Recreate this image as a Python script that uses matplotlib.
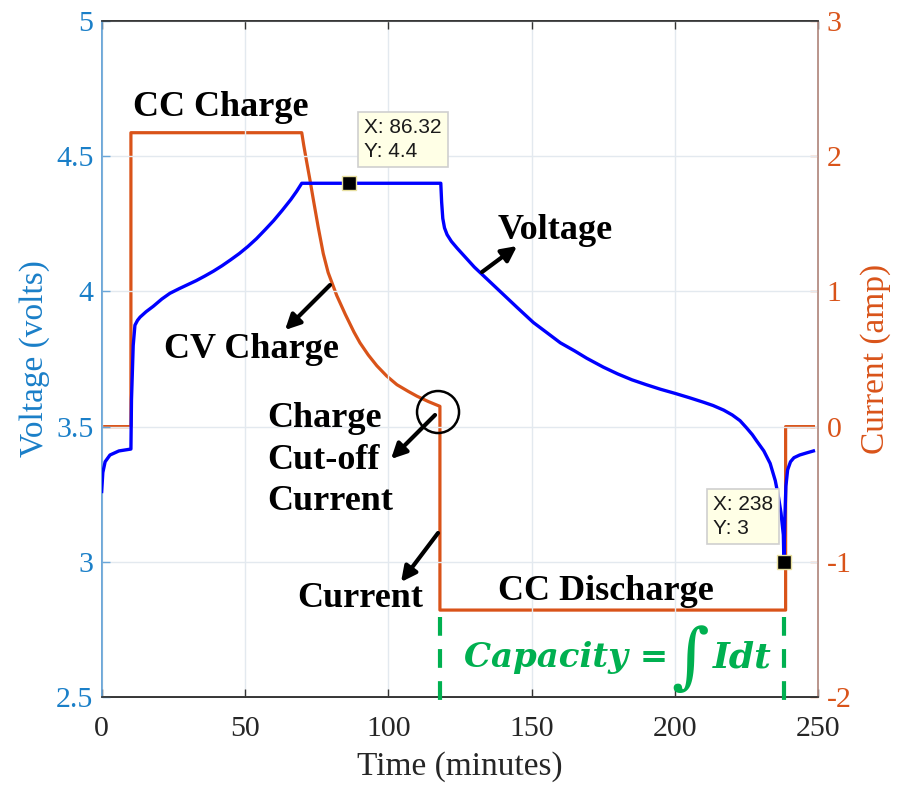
import matplotlib
matplotlib.use("Agg")
import matplotlib.pyplot as plt
from matplotlib.patches import Ellipse

plt.rcParams['axes.unicode_minus'] = False
plt.rcParams['font.family'] = ['Liberation Serif', 'DejaVu Serif']

# ---------------- data ----------------
time_v = [0, 0.4, 1.2, 2.9, 6, 10.2, 10.4, 11.0, 11.6, 12.5, 13.4, 15.5, 18, 21, 23.8,
          27, 30, 33, 36, 39, 42, 45, 48, 51, 54, 57, 60, 63, 66, 68, 69.8,
          86.32, 118.3, 118.6, 119.0, 119.6, 120.5, 122, 124, 127, 130, 133, 137,
          141, 145, 150.6, 155, 160, 165, 169.2, 175, 180, 185, 190, 195, 200, 205,
          210, 213.3, 217, 220, 222.7, 225, 227, 228.5, 231, 233.2, 235, 236.1, 237,
          237.8, 238, 238.3, 238.7, 239.3, 240.3, 241.5, 243.5, 246, 248.3]
voltage = [3.26, 3.33, 3.37, 3.395, 3.41, 3.417, 3.60, 3.80, 3.875, 3.893, 3.905, 3.925,
           3.945, 3.972, 3.993, 4.010, 4.025, 4.040, 4.057, 4.075, 4.095, 4.117, 4.140,
           4.166, 4.195, 4.228, 4.262, 4.300, 4.340, 4.370, 4.400,
           4.400, 4.400, 4.330, 4.270, 4.235, 4.210, 4.185, 4.160, 4.125, 4.090, 4.060,
           4.020, 3.980, 3.940, 3.885, 3.850, 3.810, 3.780, 3.753, 3.720, 3.695, 3.673,
           3.655, 3.638, 3.623, 3.607, 3.590, 3.578, 3.561, 3.543, 3.522, 3.495, 3.470,
           3.447, 3.410, 3.364, 3.300, 3.240, 3.180, 3.100, 3.000, 3.150, 3.280, 3.340,
           3.370, 3.385, 3.395, 3.403, 3.410]

time_i = [0, 10.2, 10.2, 69.8, 70.5, 71.5, 72.7, 74, 75.5, 77.3, 79, 82, 85, 88, 90.1,
          93, 96, 99.4, 103, 107, 110, 114, 118, 118, 238.6, 238.6, 248.3]
current = [0, 0, 2.174, 2.174, 2.08, 1.96, 1.82, 1.66, 1.48, 1.28, 1.14, 0.97, 0.83,
           0.70, 0.62, 0.53, 0.45, 0.375, 0.31, 0.26, 0.225, 0.185, 0.15, -1.357,
           -1.357, 0, 0]

tips = [(86.32, 4.4), (238, 3.0)]
tip_labels = ["X: 86.32\nY: 4.4", "X: 238\nY: 3"]
capacity_bounds = [118, 238]

xticks = [0, 50, 100, 150, 200, 250]
vticks = [2.5, 3, 3.5, 4, 4.5, 5]
vticklabels = ["2.5", "3", "3.5", "4", "4.5", "5"]
iticks = [-2, -1, 0, 1, 2, 3]

# ---------------- styling ----------------
BLUE_TXT = '#1a7fc8'
BLUE_SPINE = '#6aa6d8'
ORANGE = '#D95319'
LINE_BLUE = '#0000FF'
GREEN = '#00B050'
GRID = '#e3e9ef'

fig = plt.figure(figsize=(9.03, 7.85), dpi=100)
ax = fig.add_axes([0.1126, 0.1121, 0.7936, 0.8611])
ax2 = ax.twinx()

ax.set_xlim(0, 250)
ax.set_ylim(2.5, 5)
ax2.set_ylim(-2, 3)

TICK_FS = 21.5
ax.set_xticks(xticks)
ax.set_xticklabels([str(x) for x in xticks], fontsize=TICK_FS, color='#262626')
ax.set_yticks(vticks)
ax.set_yticklabels(vticklabels, fontsize=TICK_FS, color=BLUE_TXT)
ax2.set_yticks(iticks)
ax2.set_yticklabels([str(v) for v in iticks], fontsize=TICK_FS, color=ORANGE)

ax.grid(True, color=GRID, lw=1)
ax.set_axisbelow(True)

ax.tick_params(axis='x', direction='in', length=6, width=1, color='#333333', top=True, pad=14)
ax.tick_params(axis='y', direction='in', length=6, width=1, color=BLUE_SPINE, pad=6)
ax2.tick_params(axis='y', direction='in', length=6, width=1, color='#e8875a', pad=6)

for a in (ax, ax2):
    a.spines['top'].set_color('#333333')
    a.spines['bottom'].set_color('#333333')
    a.spines['left'].set_color(BLUE_SPINE)
    a.spines['right'].set_color('#b9938a')
    for s in a.spines.values():
        s.set_linewidth(1.2)

ax.set_xlabel("Time (minutes)", fontsize=24, color='#262626', labelpad=6)
ax.set_ylabel("Voltage (volts)", fontsize=24, color=BLUE_TXT, labelpad=4)
ax2.set_ylabel("Current (amp)", fontsize=24, color=ORANGE, labelpad=6)

# ---------------- series ----------------
ax2.plot(time_i, current, color=ORANGE, lw=2.3, zorder=3)
ax.set_zorder(ax2.get_zorder() + 1)
ax.patch.set_visible(False)
ax.plot(time_v, voltage, color=LINE_BLUE, lw=2.4, zorder=3)

# capacity bounds (green dashed)
for tb in capacity_bounds:
    ax.plot([tb, tb], [2.795, 2.475], color=GREEN, lw=3, ls=(0, (4.5, 3.2)),
            clip_on=False, zorder=4)

# data tips
for (tx, ty), lab in zip(tips, tip_labels):
    ax.plot([tx], [ty], marker='s', ms=10, color='black', mec='#e8e0a0', mew=1, zorder=6)


def P(px, py):
    return ((px - 101.7) / 2.866, 5 - (py - 21) / 270.4)


tip_pos = [P(364, 118), P(713, 495)]
for (x, y), lab in zip(tip_pos, tip_labels):
    ax.text(x, y, lab, fontsize=15, family=['Liberation Sans', 'DejaVu Sans'],
            ha='left', va='top', color='#1a1a1a', linespacing=1.3, zorder=7,
            bbox=dict(boxstyle='square,pad=0.3', fc='#FFFFE6', ec='#cfcfcf', lw=1.2))

# ---------------- annotations ----------------
bold = dict(fontsize=26, fontweight='bold', color='black', zorder=8)
ax.text(*P(221, 107), "CC Charge", ha='center', va='center', **bold)
ax.text(*P(251, 349), "CV Charge", ha='center', va='center', **bold)
ax.text(*P(267, 460), "Charge\nCut-off\nCurrent", ha='left', va='center',
        linespacing=1.33, **bold)
ax.text(*P(360, 598), "Current", ha='center', va='center', **bold)
ax.text(*P(555, 230), "Voltage", ha='center', va='center', **bold)
ax.text(*P(606, 591), "CC Discharge", ha='center', va='center', **bold)

green_txt = dict(color=GREEN, fontweight='bold', fontstyle='italic', zorder=8)
ax.text(*P(566, 657), "Capacity =", ha='center', va='center', fontsize=24.5,
        family=['DejaVu Serif'], **green_txt)
ax.text(*P(690, 660), "\u222b", ha='center', va='center', fontsize=52,
        family=['DejaVu Serif'], color=GREEN, zorder=8)
ax.text(*P(742, 657), "Idt", ha='center', va='center', fontsize=26,
        family=['DejaVu Serif'], **green_txt)

arrows = [((330, 285), (285, 330)),
          ((482, 272), (517, 246)),
          ((435, 415), (391, 459)),
          ((438, 533), (401, 582))]
for tail, head in arrows:
    ax.annotate('', xy=P(*head), xytext=P(*tail),
                arrowprops=dict(arrowstyle='-|>,head_length=0.9,head_width=0.45',
                                lw=3, color='black', shrinkA=0, shrinkB=0),
                zorder=8)

cx, cy = P(438, 412)
ax.add_patch(Ellipse((cx, cy), width=42 / 2.866, height=42 / 270.4, fill=False,
                     ec='black', lw=1.8, zorder=8))

fig.savefig("out.png", dpi=100)
